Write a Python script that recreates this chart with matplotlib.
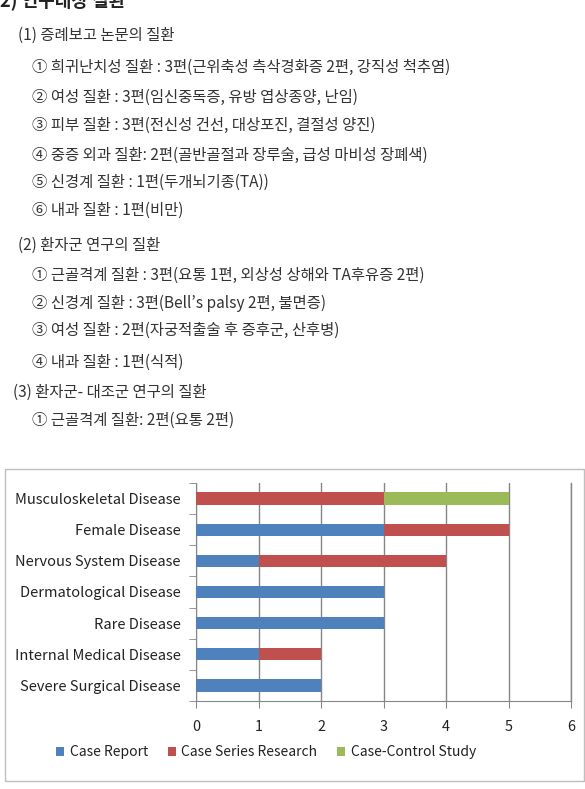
import numpy as np
import matplotlib.pyplot as plt
from matplotlib.patches import Rectangle

plt.rcParams['font.family'] = ['Noto Sans CJK KR', 'DejaVu Sans']

# document text above the chart
heading = "2) 연구대상 질환"
doc_lines = [
    "(1) 증례보고 논문의 질환",
    "① 희귀난치성 질환 : 3편(근위축성 측삭경화증 2편, 강직성 척추염)",
    "② 여성 질환 : 3편(임신중독증, 유방 엽상종양, 난임)",
    "③ 피부 질환 : 3편(전신성 건선, 대상포진, 결절성 양진)",
    "④ 중증 외과 질환: 2편(골반골절과 장루술, 급성 마비성 장폐색)",
    "⑤ 신경계 질환 : 1편(두개뇌기종(TA))",
    "⑥ 내과 질환 : 1편(비만)",
    "(2) 환자군 연구의 질환",
    "① 근골격계 질환 : 3편(요통 1편, 외상성 상해와 TA후유증 2편)",
    "② 신경계 질환 : 3편(Bell’s palsy 2편, 불면증)",
    "③ 여성 질환 : 2편(자궁적출술 후 증후군, 산후병)",
    "④ 내과 질환 : 1편(식적)",
    "(3) 환자군- 대조군 연구의 질환",
    "① 근골격계 질환: 2편(요통 2편)",
]
line_x = [18, 32, 32, 32, 32, 32, 32, 18, 32, 32, 32, 32, 13, 32]
line_y = [35, 67, 97, 125, 155, 182, 210, 245, 275, 303, 330, 362, 392, 420]

# chart data (top to bottom)
categories = ["Musculoskeletal Disease", "Female Disease", "Nervous System Disease",
              "Dermatological Disease", "Rare Disease", "Internal Medical Disease",
              "Severe Surgical Disease"]
case_report = [0, 3, 1, 3, 3, 1, 2]
case_series = [3, 2, 3, 0, 0, 1, 0]
case_control = [2, 0, 0, 0, 0, 0, 0]
series_names = ["Case Report", "Case Series Research", "Case-Control Study"]
colors = ["#4F81BD", "#C0504D", "#9BBB59"]

W, H = 585, 789
fig = plt.figure(figsize=(W / 100, H / 100), dpi=100)

txt_color = "#333333"
fig.text(0 / W, 1 - 1 / H, heading, fontsize=13, fontweight='bold', color="#222222",
         ha='left', va='center')
for x, y, s in zip(line_x, line_y, doc_lines):
    fig.text(x / W, 1 - y / H, s, fontsize=11.1, color=txt_color, ha='left', va='center')

# chart frame
fig.patches.append(Rectangle((5 / W, 1 - 781 / H), 579 / W, 312 / H, transform=fig.transFigure,
                             fill=False, edgecolor="#BFBFBF", lw=1))

ax = fig.add_axes([196 / W, 1 - 701 / H, 375 / W, 218 / H])
ypos = np.arange(len(categories))[::-1]
left = np.zeros(len(categories))
for vals, name, c in zip([case_report, case_series, case_control], series_names, colors):
    vals = np.array(vals)
    ax.barh(ypos, vals, left=left, height=0.39, color=c, label=name, zorder=3)
    left += vals

gray = "#868686"
ax.set_xlim(0, 6)
ax.set_ylim(-0.5, len(categories) - 0.5)
ax.set_xticks(range(7))
ax.set_yticks(ypos)
ax.set_yticklabels(categories)
ax.set_yticks(np.arange(-0.5, len(categories)), minor=True)
ax.tick_params(axis='y', which='major', length=0, pad=11, labelsize=10.5, labelcolor="#222222")
ax.tick_params(axis='y', which='minor', length=5, color=gray, direction='out')
ax.tick_params(axis='x', length=5, color=gray, direction='out', pad=9, labelsize=10.4,
               labelcolor="#222222")
ax.grid(axis='x', color=gray, lw=1, zorder=0)
ax.grid(axis='y', visible=False)
for sp in ['top', 'right']:
    ax.spines[sp].set_visible(False)
for sp in ['left', 'bottom']:
    ax.spines[sp].set_color(gray)
ax.axvline(6, color=gray, lw=1, zorder=0, clip_on=False)

fig.legend(loc='center', bbox_to_anchor=(266 / W, 1 - 752 / H), ncol=3, frameon=False,
           fontsize=10, handlelength=0.6, handleheight=0.6, handletextpad=0.4,
           columnspacing=1.4, labelcolor="#222222")

fig.savefig("out.png", dpi=100, facecolor='white')
